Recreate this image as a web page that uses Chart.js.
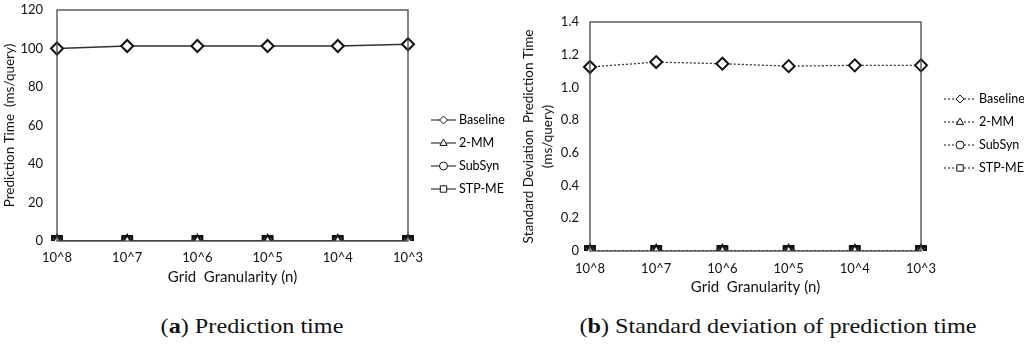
<!DOCTYPE html>
<html>
<head>
<meta charset="utf-8">
<script src="https://cdn.jsdelivr.net/npm/chart.js@4/dist/chart.umd.min.js"></script>
<style>
  html, body { margin: 0; padding: 0; background: #fff; }
  body { width: 1024px; height: 347px; position: relative; overflow: hidden; }
  .panel { position: absolute; top: 0; width: 512px; height: 300px; }
  #panelA { left: 0; }
  #panelB { left: 512px; }
  .caption { position: absolute; top: 313px; font-family: "Liberation Serif", "DejaVu Serif", serif; font-size: 22px; color: #111; white-space: nowrap; transform: translateX(-50%) scaleX(1.1); }
  #capA { left: 252px; }
  #capB { left: 778px; }
</style>
</head>
<body>
<div class="panel" id="panelA"><canvas id="chartA" width="512" height="300"></canvas></div>
<div class="panel" id="panelB"><canvas id="chartB" width="512" height="300"></canvas></div>
<div class="caption" id="capA">(<b>a</b>) Prediction time</div>
<div class="caption" id="capB">(<b>b</b>) Standard deviation of prediction time</div>
<script>
// categories and series
const granularity = ['10^8', '10^7', '10^6', '10^5', '10^4', '10^3'];
const seriesNames = ['Baseline', '2-MM', 'SubSyn', 'STP-ME'];

// (a) prediction time, ms/query
const timeBaseline = [100, 101.3, 101.3, 101.3, 101.3, 102.2];
const time2MM = [0, 0, 0, 0, 0, 0];
const timeSubSyn = [0, 0, 0, 0, 0, 0];
const timeSTPME = [0, 0, 0, 0, 0, 0];

// (b) standard deviation of prediction time, ms/query
const stdBaseline = [1.125, 1.155, 1.145, 1.13, 1.135, 1.135];
const std2MM = [0, 0, 0, 0, 0, 0];
const stdSubSyn = [0, 0, 0, 0, 0, 0];
const stdSTPME = [0, 0, 0, 0, 0, 0];

const FONT = 'Lato, "Open Sans", sans-serif';
const INK = '#111';
const markers = [
    { style: 'rectRot', radius: 6 },
    { style: 'triangle', radius: 6 },
    { style: 'circle', radius: 5 },
    { style: 'rect', radius: 7 }
];

// small marker painter for the legend
function drawMarker(ctx, style, x, y, r) {
    ctx.beginPath();
    if (style === 'rectRot') {
        ctx.moveTo(x, y - r); ctx.lineTo(x + r, y); ctx.lineTo(x, y + r); ctx.lineTo(x - r, y);
        ctx.closePath();
    } else if (style === 'triangle') {
        ctx.moveTo(x, y - r); ctx.lineTo(x + r * 0.9, y + r * 0.6); ctx.lineTo(x - r * 0.9, y + r * 0.6);
        ctx.closePath();
    } else if (style === 'circle') {
        ctx.arc(x, y, r, 0, Math.PI * 2);
    } else {
        ctx.rect(x - r * 0.8, y - r * 0.8, r * 1.6, r * 1.6);
    }
    ctx.fill();
    ctx.stroke();
}

const framePlugin = {
    id: 'frame',
    afterDatasetsDraw(chart) {
        const a = chart.chartArea;
        const ctx = chart.ctx;
        ctx.save();
        ctx.strokeStyle = '#444';
        ctx.lineWidth = 1.3;
        ctx.strokeRect(a.left, a.top, a.right - a.left, a.bottom - a.top);
        ctx.restore();
    }
};

const sideLegend = {
    id: 'sideLegend',
    afterDraw(chart, args, opts) {
        const ctx = chart.ctx;
        ctx.save();
        ctx.font = '12.5px ' + FONT;
        ctx.textBaseline = 'middle';
        seriesNames.forEach((name, i) => {
            const y = opts.y0 + i * opts.dy;
            ctx.strokeStyle = INK;
            ctx.lineWidth = 1;
            ctx.setLineDash(opts.dash);
            ctx.beginPath();
            ctx.moveTo(opts.x0, y);
            ctx.lineTo(opts.x1, y);
            ctx.stroke();
            ctx.setLineDash([]);
            ctx.fillStyle = '#fff';
            drawMarker(ctx, markers[i].style, (opts.x0 + opts.x1) / 2, y, 4);
            ctx.fillStyle = '#000';
            ctx.fillText(name, opts.x1 + 3, y);
        });
        ctx.restore();
    }
};

function makeChart(id, values, cfg) {
    const datasets = values.map((vals, i) => ({
        label: seriesNames[i],
        data: vals,
        borderColor: '#333',
        borderWidth: 1.3,
        borderDash: cfg.dash,
        pointStyle: markers[i].style,
        pointRadius: markers[i].radius,
        pointBorderWidth: 2,
        pointBackgroundColor: '#fff',
        pointBorderColor: '#111',
        tension: 0
    }));

    return new Chart(document.getElementById(id), {
        type: 'line',
        data: { labels: granularity, datasets },
        options: {
            responsive: false,
            animation: false,
            events: [],
            layout: { padding: { top: cfg.top, right: cfg.right, left: 0, bottom: 0 } },
            plugins: {
                legend: { display: false },
                tooltip: { enabled: false },
                sideLegend: cfg.legend
            },
            scales: {
                x: {
                    type: 'category',
                    offset: false,
                    grid: { display: false, drawTicks: false },
                    border: { display: false },
                    ticks: { color: INK, font: { family: FONT, size: 13 }, padding: cfg.xPad, maxRotation: 0, autoSkip: false },
                    title: { display: true, text: 'Grid  Granularity (n)', color: INK, font: { family: FONT, size: 15 }, padding: { top: 0, bottom: cfg.xTitlePad } },
                    afterFit(scale) { scale.height = cfg.xHeight; }
                },
                y: {
                    min: 0,
                    max: cfg.yMax,
                    grid: { display: false, drawTicks: false },
                    border: { display: false },
                    ticks: { stepSize: cfg.yStep, color: INK, font: { family: FONT, size: 13 }, padding: cfg.yPad },
                    title: { display: true, text: cfg.yTitle, color: INK, font: { family: FONT, size: 13.5, lineHeight: 1.35 }, padding: { top: cfg.yTitlePad, bottom: 0 } },
                    afterFit(scale) {
                        scale.width = cfg.yWidth;
                        // let the layout padding alone set the plot top
                        scale.paddingTop = 0;
                        scale.paddingBottom = 0;
                    }
                }
            }
        },
        plugins: [framePlugin, sideLegend]
    });
}

makeChart('chartA', [timeBaseline, time2MM, timeSubSyn, timeSTPME], {
    dash: [],
    top: 10, right: 104,
    xPad: 9, xTitlePad: 14, xHeight: 59,
    yMax: 120, yStep: 20, yPad: 14, yWidth: 57, yTitlePad: 1,
    yTitle: 'Prediction Time  (ms/query)',
    legend: { x0: 431, x1: 456, y0: 120, dy: 23, dash: [] }
});

makeChart('chartB', [stdBaseline, std2MM, stdSubSyn, stdSTPME], {
    dash: [2, 2],
    top: 22, right: 103,
    xPad: 10, xTitlePad: 4, xHeight: 49,
    yMax: 1.4, yStep: 0.2, yPad: 11, yWidth: 78, yTitlePad: 8,
    yTitle: ['Standard Deviation  Prediction Time', '(ms/query)'],
    legend: { x0: 432, x1: 464, y0: 99, dy: 23, dash: [2, 2] }
});
</script>
</body>
</html>
